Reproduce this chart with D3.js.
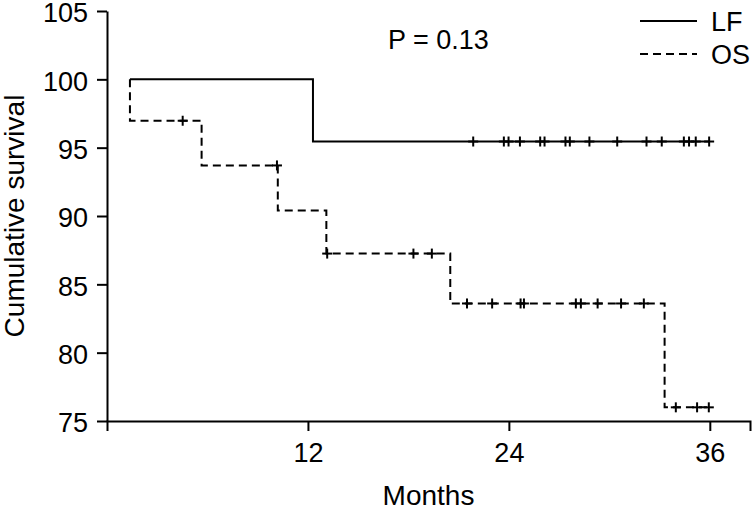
<!DOCTYPE html>
<html>
<head>
<meta charset="utf-8">
<script src="https://cdn.jsdelivr.net/npm/d3@7"></script>
<style>
  body { margin: 0; background: #fff; }
  svg text { font-family: "Liberation Sans", Arial, sans-serif; fill: #000; }
</style>
</head>
<body>
<div id="chart"></div>
<script>
// Kaplan-Meier data (months, cumulative survival %)
const lfStepTimes = [1.37, 12.3];
const lfStepValues = [100, 95.45];
const lfEnd = 35.96;
const lfCensored = [21.87, 23.70, 23.98, 24.66, 25.87, 26.13, 27.38, 27.64, 28.81,
                    30.47, 32.22, 33.13, 34.45, 34.76, 35.16, 35.96];

const osStepTimes = [1.37, 1.37, 5.65, 10.2, 13.1, 20.5, 33.3];
const osStepValues = [100, 96.97, 93.7, 90.4, 87.25, 83.6, 76.0];
const osEnd = 35.94;
const osCensored = [4.52, 10.15, 13.15, 18.3, 19.4, 21.5, 23.0, 24.7, 24.9, 28.0,
                    28.3, 29.3, 30.7, 32.06, 33.97, 35.24, 35.94];

const xTicks = [12, 24, 36];
const yTicks = [75, 80, 85, 90, 95, 100, 105];
const seriesNames = ["LF", "OS"];
const pValueText = "P = 0.13";

const width = 756, height = 510;

const svg = d3.select("#chart")
  .append("svg")
  .attr("width", width)
  .attr("height", height);

const x = d3.scaleLinear().domain([0, 38.4]).range([107, 750]);
const y = d3.scaleLinear().domain([75, 105]).range([421, 11]);

// axes
const xAxis = svg.append("g")
  .attr("transform", "translate(0," + y(75) + ")")
  .call(d3.axisBottom(x).tickValues(xTicks).tickSize(10).tickSizeOuter(10).tickPadding(12));
const yAxis = svg.append("g")
  .attr("transform", "translate(" + x(0) + ",0)")
  .call(d3.axisLeft(y).tickValues(yTicks).tickSize(10).tickSizeOuter(0).tickPadding(9));

[xAxis, yAxis].forEach(g => {
  g.selectAll("path, line").attr("stroke", "#000").attr("stroke-width", 2);
  g.selectAll("text")
    .style("font-family", "'Liberation Sans', Arial, sans-serif")
    .style("font-size", "27px")
    .attr("fill", "#000");
});
yAxis.selectAll("text").attr("dy", "0.4em");

// axis titles
svg.append("text")
  .attr("x", (x(0) + x(38.4)) / 2)
  .attr("y", 505)
  .attr("text-anchor", "middle")
  .style("font-size", "28px")
  .text("Months");

svg.append("text")
  .attr("transform", "translate(24," + (y(75) + y(105)) / 2 + ") rotate(-90)")
  .attr("text-anchor", "middle")
  .style("font-size", "28px")
  .text("Cumulative survival");

// step curves
function stepPoints(times, values, end) {
  const pts = times.map((t, i) => [t, values[i]]);
  pts.push([end, values[values.length - 1]]);
  return pts;
}

function survivalAt(times, values, t) {
  let s = values[0];
  times.forEach((tt, i) => { if (tt <= t) s = values[i]; });
  return s;
}

const line = d3.line()
  .x(d => x(d[0]))
  .y(d => y(d[1]))
  .curve(d3.curveStepAfter);

const curves = [
  { name: "LF", times: lfStepTimes, values: lfStepValues, end: lfEnd, cens: lfCensored, dash: null },
  { name: "OS", times: osStepTimes, values: osStepValues, end: osEnd, cens: osCensored, dash: "8,5" }
];

curves.forEach(c => {
  svg.append("path")
    .datum(stepPoints(c.times, c.values, c.end))
    .attr("d", line)
    .attr("fill", "none")
    .attr("stroke", "#000")
    .attr("stroke-width", 2)
    .attr("stroke-dasharray", c.dash);

  // censor marks
  const marks = svg.append("g").selectAll("g")
    .data(c.cens)
    .enter()
    .append("g")
    .attr("transform", d => "translate(" + x(d) + "," + y(survivalAt(c.times, c.values, d)) + ")");
  marks.append("line")
    .attr("x1", 0).attr("x2", 0).attr("y1", -5).attr("y2", 5)
    .attr("stroke", "#000").attr("stroke-width", 2);
  marks.append("line")
    .attr("x1", -5).attr("x2", 5).attr("y1", 0).attr("y2", 0)
    .attr("stroke", "#000").attr("stroke-width", 2);
});

// p-value
svg.append("text")
  .attr("x", 388)
  .attr("y", 49)
  .style("font-size", "27px")
  .text(pValueText);

// legend
const legend = svg.append("g");
seriesNames.forEach((name, i) => {
  const ly = 21 + i * 33;
  legend.append("line")
    .attr("x1", 640).attr("x2", 697)
    .attr("y1", ly).attr("y2", ly)
    .attr("stroke", "#000")
    .attr("stroke-width", 2)
    .attr("stroke-dasharray", curves[i].dash);
  legend.append("text")
    .attr("x", 711)
    .attr("y", ly + 10)
    .style("font-size", "27px")
    .text(name);
});
</script>
</body>
</html>
